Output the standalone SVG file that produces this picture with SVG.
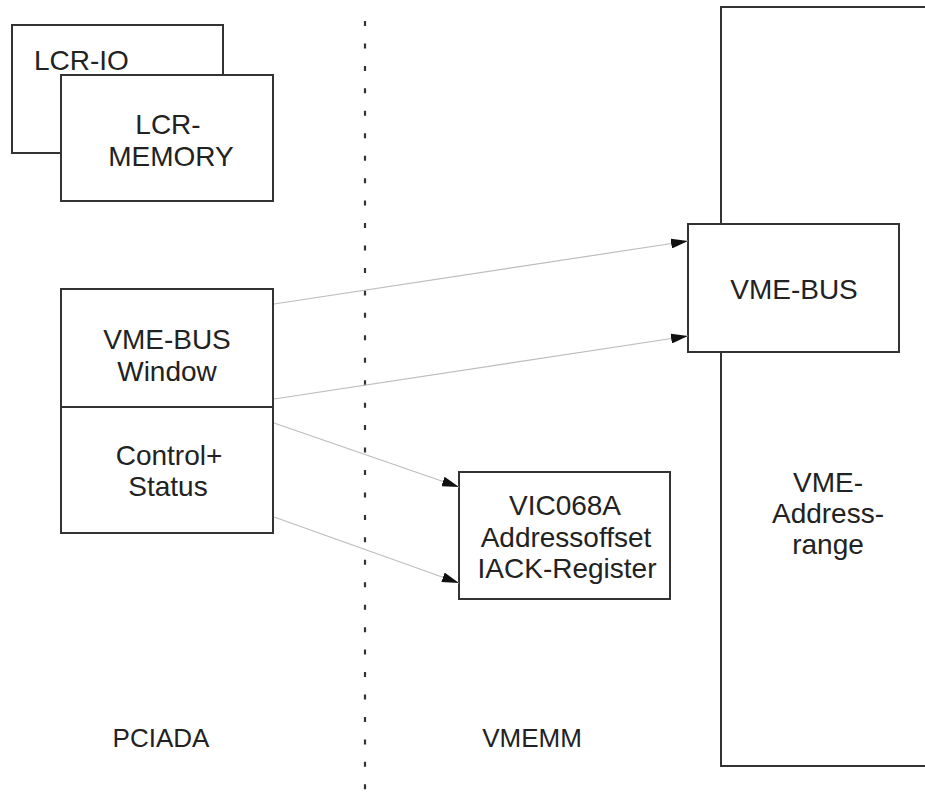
<svg xmlns="http://www.w3.org/2000/svg" width="925" height="792" viewBox="0 0 925 792">
<style>
.box{fill:#fff;stroke:#333;stroke-width:2}
.t{font-family:"Liberation Sans",Arial,sans-serif;font-size:28px;fill:#222;text-anchor:middle}
.lbl{font-family:"Liberation Sans",Arial,sans-serif;font-size:26px;fill:#222;text-anchor:middle}
.conn{stroke:#bdbdbd;stroke-width:1.2;fill:none;marker-end:url(#arr)}
</style>
<defs>
<marker id="arr" markerUnits="userSpaceOnUse" markerWidth="18" markerHeight="10" refX="17" refY="5" orient="auto">
<path d="M0,0 L17,5 L0,10 Z" fill="#111"/>
</marker>
</defs>
<rect width="925" height="792" fill="#fff"/>
<line x1="365" y1="21" x2="365" y2="792" stroke="#333" stroke-width="2.2" stroke-dasharray="5 17.45"/>
<g id="vme-range">
<rect class="box" x="721" y="7" width="230" height="759"/>
<text class="t" x="828" y="492">VME-</text>
<text class="t" x="828" y="523">Address-</text>
<text class="t" x="828" y="554">range</text>
</g>
<g id="lcr-io">
<rect class="box" x="12" y="25" width="211" height="128"/>
<text class="t" x="34" y="70" style="text-anchor:start">LCR-IO</text>
</g>
<g id="lcr-memory">
<rect class="box" x="61" y="75" width="212" height="126"/>
<text class="t" x="168" y="134">LCR-</text>
<text class="t" x="171" y="166">MEMORY</text>
</g>
<g id="vme-bus-window">
<rect class="box" x="61" y="289" width="212" height="118"/>
<text class="t" x="167" y="349">VME-BUS</text>
<text class="t" x="167" y="381">Window</text>
</g>
<g id="control-status">
<rect class="box" x="61" y="407" width="212" height="126"/>
<text class="t" x="169" y="465">Control+</text>
<text class="t" x="168" y="496">Status</text>
</g>
<g id="vic068a">
<rect class="box" x="459" y="472" width="211" height="127"/>
<text class="t" x="565" y="515">VIC068A</text>
<text class="t" x="566" y="547">Addressoffset</text>
<text class="t" x="567" y="578">IACK-Register</text>
</g>
<g id="vme-bus">
<rect class="box" x="688" y="224" width="211" height="128"/>
<text class="t" x="794" y="299">VME-BUS</text>
</g>
<g id="pciada-label"><text class="lbl" x="161" y="747">PCIADA</text></g>
<g id="vmemm-label"><text class="lbl" x="532" y="747">VMEMM</text></g>
<g id="connectors">
<line class="conn" x1="274" y1="304" x2="688" y2="241"/>
<line class="conn" x1="274" y1="399" x2="688" y2="336"/>
<line class="conn" x1="274" y1="423" x2="459" y2="487"/>
<line class="conn" x1="274" y1="517" x2="459" y2="583"/>
</g>
</svg>
